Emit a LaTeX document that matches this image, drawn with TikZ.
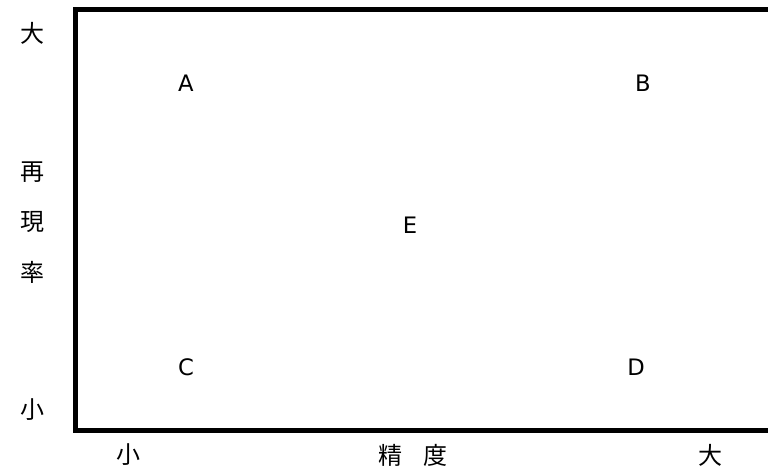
\documentclass[tikz,border=0pt]{standalone}
\usepackage{fontspec}
\setmainfont{DejaVu Sans}
\newfontfamily\jpfont{Noto Sans CJK JP}
\begin{document}
\begin{tikzpicture}[x=0.75pt,y=-0.75pt]
\tikzset{letter/.style={font=\fontsize{17}{19}\selectfont,inner sep=0pt},
kanji/.style={font=\jpfont\fontsize{18}{20}\selectfont,inner sep=0pt}}
\useasboundingbox (0,0) rectangle (768,471);
% frame, open to the right
\coordinate (tr) at (768,9.5);
\coordinate (br) at (768,430.5);
\draw[line width=3.75pt] (tr) -- (75.5,9.5) -- (75.5,430.5) -- (br);
% vertical axis
\node[kanji] (ybig) at (33,33) {大};
\node[kanji] (y1) at (33,172) {再};
\node[kanji] (y2) at (33,222) {現};
\node[kanji] (y3) at (33,272) {率};
\node[kanji] (ysmall) at (33,410) {小};
% horizontal axis
\node[kanji] (xsmall) at (128,455) {小};
\node[kanji] (x1) at (390,455) {精};
\node[kanji] (x2) at (435,455) {度};
\node[kanji] (xbig) at (710,455) {大};
% regions
\node[letter] (A) at (186,83) {A};
\node[letter] (B) at (643,83) {B};
\node[letter] (E) at (410,225) {E};
\node[letter] (C) at (186,367) {C};
\node[letter] (D) at (636,367) {D};
\end{tikzpicture}
\end{document}
